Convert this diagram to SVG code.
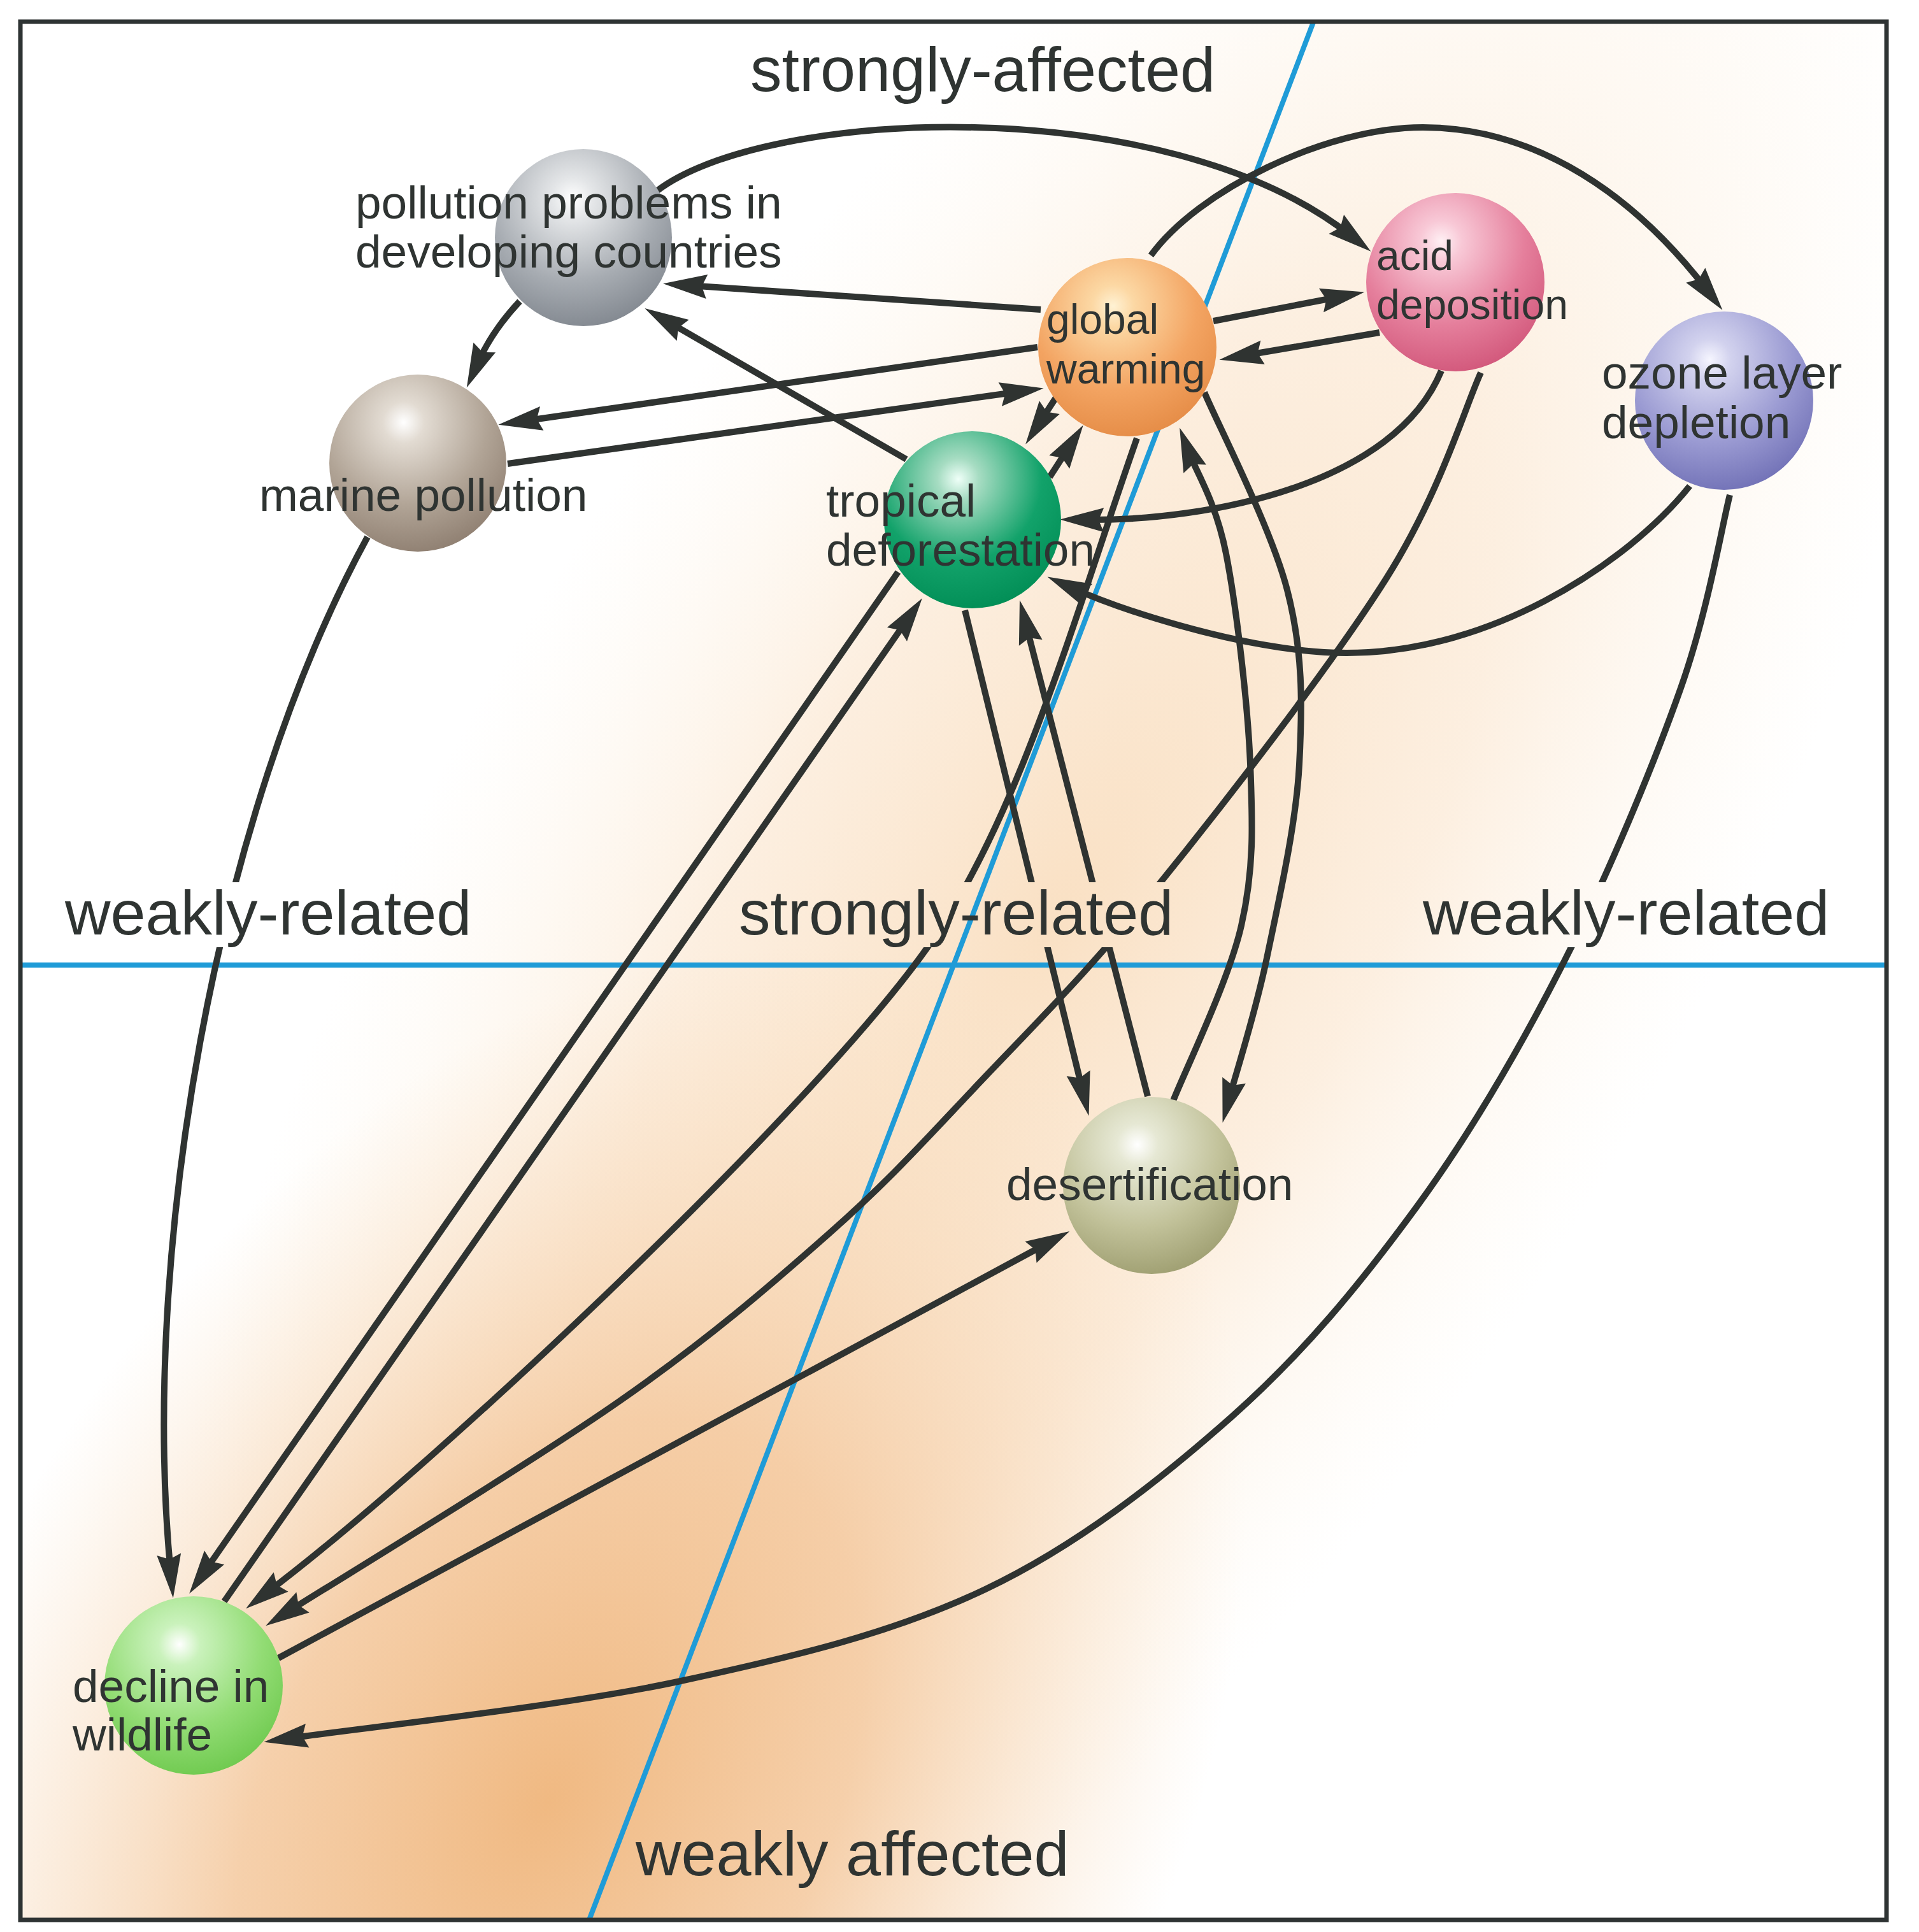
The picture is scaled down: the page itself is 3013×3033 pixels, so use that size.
<svg xmlns="http://www.w3.org/2000/svg" width="3013" height="3033" viewBox="0 0 3013 3033">
<style>
.c{fill:none;stroke:#2f3331;stroke-width:10;marker-end:url(#ah)}
.big{font-family:"Liberation Sans",Arial,Helvetica,sans-serif;font-size:99px;fill:#2f3432}
.lbl{font-family:"Liberation Sans",Arial,Helvetica,sans-serif;font-size:73px;fill:#2f3432}
.lbl2{font-family:"Liberation Sans",Arial,Helvetica,sans-serif;font-size:66px;fill:#2f3432}
.blue{stroke:#1f9bd7;stroke-width:8;fill:none}
</style>
<defs>
<marker id="ah" viewBox="-32 -22 76 44" refX="0" refY="0" markerWidth="76" markerHeight="44" orient="auto" markerUnits="userSpaceOnUse">
<path d="M40,0 L-29,-19 L-21,0 L-29,19 Z" fill="#2f3331"/>
</marker>
<clipPath id="frame"><rect x="32" y="34" width="2930" height="2980"/></clipPath>
<mask id="km" maskUnits="userSpaceOnUse" x="0" y="0" width="3013" height="3033">
<rect width="3013" height="3033" fill="#fff"/>
<rect x="92" y="1385" width="659" height="102" fill="#000"/>
<rect x="1150" y="1385" width="702" height="102" fill="#000"/>
<rect x="2224" y="1385" width="659" height="102" fill="#000"/>
</mask>
<radialGradient id="bg1" cx="0.5" cy="0.5" r="0.5">
<stop offset="0" stop-color="#f9ddbd" stop-opacity="0.9"/>
<stop offset="0.5" stop-color="#fbe6cf" stop-opacity="0.65"/>
<stop offset="1" stop-color="#fdf3e4" stop-opacity="0"/>
</radialGradient>
<radialGradient id="bg2" cx="0.5" cy="0.5" r="0.5">
<stop offset="0" stop-color="#f0b982" stop-opacity="1"/>
<stop offset="0.45" stop-color="#f4c89d" stop-opacity="0.85"/>
<stop offset="1" stop-color="#f8dcbc" stop-opacity="0"/>
</radialGradient>
<radialGradient id="gPP" cx="0.44" cy="0.28" r="0.78" fx="0.44" fy="0.28">
<stop offset="0" stop-color="#ffffff"/><stop offset="0.15" stop-color="#e4e6e8"/><stop offset="0.6" stop-color="#a7acb2"/><stop offset="1" stop-color="#7d838b"/>
</radialGradient>
<radialGradient id="gGW" cx="0.42" cy="0.27" r="0.78" fx="0.42" fy="0.27">
<stop offset="0" stop-color="#fff2d4"/><stop offset="0.15" stop-color="#fcd8a4"/><stop offset="0.6" stop-color="#f3a462"/><stop offset="1" stop-color="#e48a44"/>
</radialGradient>
<radialGradient id="gAC" cx="0.42" cy="0.27" r="0.78" fx="0.42" fy="0.27">
<stop offset="0" stop-color="#fff0f4"/><stop offset="0.15" stop-color="#f8c8d6"/><stop offset="0.6" stop-color="#e57f9c"/><stop offset="1" stop-color="#d05478"/>
</radialGradient>
<radialGradient id="gOZ" cx="0.42" cy="0.27" r="0.78" fx="0.42" fy="0.27">
<stop offset="0" stop-color="#f6f6ff"/><stop offset="0.15" stop-color="#d2d2ee"/><stop offset="0.6" stop-color="#9a9ad2"/><stop offset="1" stop-color="#6e6eb4"/>
</radialGradient>
<radialGradient id="gMP" cx="0.42" cy="0.27" r="0.78" fx="0.42" fy="0.27">
<stop offset="0" stop-color="#ffffff"/><stop offset="0.15" stop-color="#e2dbd2"/><stop offset="0.6" stop-color="#b1a496"/><stop offset="1" stop-color="#8c7c6e"/>
</radialGradient>
<radialGradient id="gTD" cx="0.42" cy="0.27" r="0.78" fx="0.42" fy="0.27">
<stop offset="0" stop-color="#effff8"/><stop offset="0.15" stop-color="#a6dcc2"/><stop offset="0.6" stop-color="#12a26a"/><stop offset="1" stop-color="#008c54"/>
</radialGradient>
<radialGradient id="gDS" cx="0.42" cy="0.27" r="0.78" fx="0.42" fy="0.27">
<stop offset="0" stop-color="#ffffff"/><stop offset="0.15" stop-color="#e6e8d4"/><stop offset="0.6" stop-color="#c2c29a"/><stop offset="1" stop-color="#9c9c6e"/>
</radialGradient>
<radialGradient id="gWL" cx="0.42" cy="0.27" r="0.78" fx="0.42" fy="0.27">
<stop offset="0" stop-color="#ffffff"/><stop offset="0.15" stop-color="#caf2bc"/><stop offset="0.6" stop-color="#92dc74"/><stop offset="1" stop-color="#6cc84c"/>
</radialGradient>
</defs>

<g id="background" clip-path="url(#frame)">
<rect x="0" y="0" width="3013" height="3033" fill="#ffffff"/>
<ellipse cx="1650" cy="1450" rx="2150" ry="950" fill="url(#bg1)" transform="rotate(-58 1650 1450)"/>
<ellipse cx="860" cy="2830" rx="1450" ry="950" fill="url(#bg2)" transform="rotate(-60 860 2830)"/>
</g>

<g id="axes">
<line class="blue" x1="32" y1="1515" x2="2962" y2="1515"/>
<line class="blue" x1="2062" y1="35" x2="925" y2="3014"/>
</g>

<g id="connectors" mask="url(#km)">
<path class="c" d="M1031,300 C1200,170 1830,140 2121,370"/>
<path class="c" d="M1807,401 C1880,300 2080,200 2234,200 C2388,200 2545,280 2680,455"/>
<path class="c" d="M1634,486 L1081,448"/>
<path class="c" d="M1423,721 L1047,504"/>
<path class="c" d="M816,473 Q772,520 749,572"/>
<path class="c" d="M1629,545 L822,661"/>
<path class="c" d="M797,728 L1599,615"/>
<path class="c" d="M1905,504 L2103,466"/>
<path class="c" d="M2166,522 L1954,558"/>
<path class="c" d="M1658,624 L1632,664"/>
<path class="c" d="M1648,749 L1679,701"/>
<path class="c" d="M2263,582 C2190,760 1900,818 1704,816"/>
<path class="c" d="M2653,763 C2560,880 2330,1040 2079,1024 C1929,1014 1754,955 1681,922"/>
<path class="c" d="M2716,777 C2703,828 2682,958 2639,1080 C2596,1202 2525,1373 2456,1509 C2387,1645 2311,1776 2224,1895 C2137,2014 2047,2124 1934,2224 C1821,2324 1692,2426 1547,2495 C1402,2564 1246,2601 1064,2640 C882,2679 556,2714 454,2729"/>
<path class="c" d="M577,843 C337,1283 220,1972 268,2469"/>
<path class="c" d="M1410,898 L320,2469"/>
<path class="c" d="M352,2514 L1425,972"/>
<path class="c" d="M1785,688 C1686,971 1600,1285 1455,1489 C1275,1742 697,2290 418,2501"/>
<path class="c" d="M2325,585 C2300,639 2262,773 2176,909 C2090,1045 1919,1266 1811,1399 C1703,1532 1615,1618 1530,1708 C1445,1798 1393,1856 1300,1938 C1207,2020 1114,2101 972,2200 C830,2299 538,2476 451,2531"/>
<path class="c" d="M437,2603 L1644,1952"/>
<path class="c" d="M1515,958 L1700,1713"/>
<path class="c" d="M1802,1721 L1611,981"/>
<path class="c" d="M1842,1728 C1860,1682 1929,1541 1949,1453 C1969,1365 1967,1296 1963,1199 C1959,1102 1941,951 1925,869 C1909,787 1876,736 1866,709"/>
<path class="c" d="M1891,616 C1913,668 1996,829 2021,926 C2046,1023 2045,1104 2040,1200 C2035,1296 2007,1417 1989,1504 C1971,1591 1940,1687 1930,1724"/>
</g>

<g id="node-pollution">
<circle cx="916" cy="373" r="139" fill="url(#gPP)"/>
<text class="lbl" x="558" y="343">pollution problems in</text>
<text class="lbl" x="558" y="420">developing countries</text>
</g>
<g id="node-global-warming">
<circle cx="1770" cy="545" r="140" fill="url(#gGW)"/>
<text class="lbl2" x="1643" y="524">global</text>
<text class="lbl2" x="1643" y="602">warming</text>
</g>
<g id="node-acid">
<circle cx="2285" cy="443" r="140" fill="url(#gAC)"/>
<text class="lbl2" x="2161" y="424">acid</text>
<text class="lbl2" x="2161" y="501">deposition</text>
</g>
<g id="node-ozone">
<circle cx="2707" cy="629" r="140" fill="url(#gOZ)"/>
<text class="lbl" x="2515" y="610">ozone layer</text>
<text class="lbl" x="2515" y="688">depletion</text>
</g>
<g id="node-marine">
<circle cx="656" cy="727" r="139" fill="url(#gMP)"/>
<text class="lbl" x="407" y="802">marine pollution</text>
</g>
<g id="node-tropical">
<circle cx="1527" cy="816" r="139" fill="url(#gTD)"/>
<text class="lbl" x="1297" y="811">tropical</text>
<text class="lbl" x="1297" y="888">deforestation</text>
</g>
<g id="node-desert">
<circle cx="1808" cy="1861" r="139" fill="url(#gDS)"/>
<text class="lbl" x="1580" y="1884">desertification</text>
</g>
<g id="node-wildlife">
<circle cx="304" cy="2646" r="140" fill="url(#gWL)"/>
<text class="lbl" x="114" y="2672">decline in</text>
<text class="lbl" x="114" y="2748">wildlife</text>
</g>

<g id="axis-labels">
<text class="big" x="1178" y="143">strongly-affected</text>
<text class="big" x="102" y="1467">weakly-related</text>
<text class="big" x="1160" y="1467">strongly-related</text>
<text class="big" x="2234" y="1467">weakly-related</text>
<text class="big" x="998" y="2944">weakly affected</text>
</g>

<rect id="frame-border" x="32" y="34" width="2930" height="2980" fill="none" stroke="#2e3333" stroke-width="7"/>
</svg>
